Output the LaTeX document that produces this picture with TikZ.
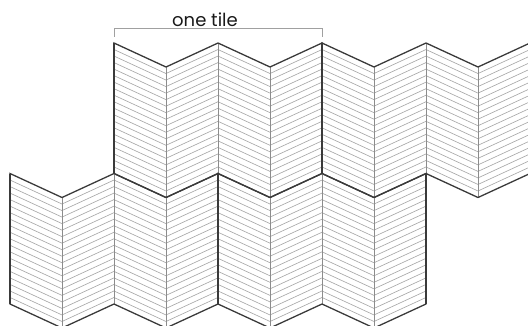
\documentclass[tikz,border=0pt]{standalone}
\usepackage{fontspec}
\setmainfont{Poppins}
\definecolor{outl}{HTML}{3A3A3A}
\definecolor{hatchc}{HTML}{A8A8A8}
\definecolor{innerc}{HTML}{8C8C8C}
\definecolor{brackc}{HTML}{A0A0A0}
\tikzset{
  hatchline/.style={draw=hatchc, line width=0.65pt},
  innerline/.style={draw=innerc, line width=0.65pt},
  outline/.style={draw=outl, line width=1.3pt, line join=miter},
  tileedge/.style={draw=outl, line width=1.8pt},
  bracketline/.style={draw=brackc, line width=0.8pt},
  labeltext/.style={font=\fontsize{18}{21}\selectfont, text=black!90, inner sep=0pt}
}
\newcommand\mytile[2]{%
  \begin{scope}[shift={(#1,#2)}]
    \foreach \k in {1,...,19}{
      \pgfmathsetmacro\yy{\k*6.525}
      \draw[hatchline] (0,\yy) -- (52,24+\yy) -- (104,\yy) -- (156,24+\yy) -- (208,\yy);
    }
    \draw[innerline] (52,24) -- (52,154.5);
    \draw[innerline] (104,0) -- (104,130.5);
    \draw[innerline] (156,24) -- (156,154.5);
    \draw[outline] (0,0) -- (52,24) -- (104,0) -- (156,24) -- (208,0) -- (208,130.5)
      -- (156,154.5) -- (104,130.5) -- (52,154.5) -- (0,130.5) -- cycle;
    \draw[tileedge] (0,0) -- (0,130.5);
    \draw[tileedge] (208,0) -- (208,130.5);
  \end{scope}}
\begin{document}
\begin{tikzpicture}[x=1pt,y=-1pt]
  \useasboundingbox (0,0) rectangle (528,325);
  \begin{scope}
    \clip (0,0) rectangle (528,325);
    \mytile{114}{43}
    \mytile{322}{43}
    \mytile{10}{173.5}
    \mytile{218}{173.5}
  \end{scope}
  \coordinate (bl) at (114,36.5);
  \coordinate (br) at (322,36.5);
  \draw[bracketline] (bl) -- ++(0,-8.5) -| (br);
  \node[labeltext, anchor=base] (label) at (205,26) {one tile};
\end{tikzpicture}
\end{document}
